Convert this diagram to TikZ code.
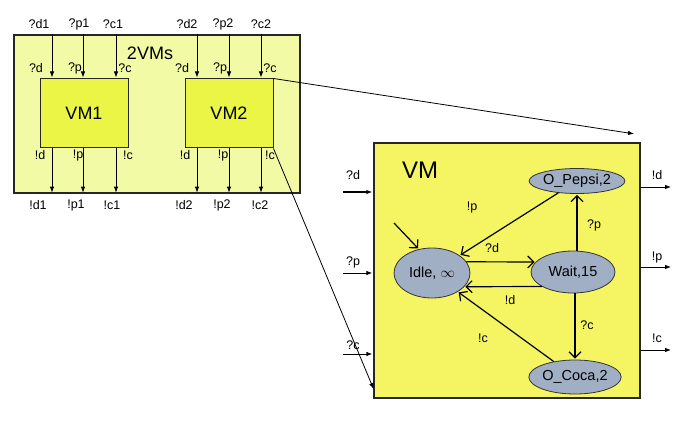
\documentclass[tikz,border=0pt]{standalone}
\usepackage{fontspec}
\setmainfont{Liberation Sans}
\usepackage{tikz}
\usetikzlibrary{arrows.meta,shapes.geometric}
\definecolor{paleyellow}{RGB}{242,250,165}
\definecolor{vmyellow}{RGB}{234,245,70}
\definecolor{bigyellow}{RGB}{245,245,100}
\definecolor{stategrey}{RGB}{160,175,196}

\begin{document}
\begin{tikzpicture}[x=1pt,y=-1pt,shorten >=1pt]
    \tikzstyle{box}=[draw=black!85,line width=1.3pt,inner sep=0pt]
    \tikzstyle{outer box}=[box,fill=paleyellow,minimum width=286pt,minimum height=158pt]
    \tikzstyle{vm box}=[box,fill=vmyellow,line width=1pt,minimum width=88pt,minimum height=69pt,font=\fontsize{18}{20}\selectfont]
    \tikzstyle{big box}=[box,fill=bigyellow,minimum width=266pt,minimum height=255pt]
    \tikzstyle{state}=[ellipse,draw=black!80,line width=0.8pt,fill=stategrey,inner sep=0pt,font=\fontsize{14.5}{16}\selectfont]
    \tikzstyle{lbl}=[inner sep=0pt,font=\fontsize{12.5}{14}\selectfont]
    \tikzstyle{port}=[draw=black,line width=0.8pt,-{Latex[length=6pt,width=4.5pt]}]
    \tikzstyle{trans}=[draw=black,line width=1.2pt,-{Straight Barb[length=6pt,width=12pt]}]
    \tikzstyle{zoomline}=[draw=black,line width=0.8pt,-{Latex[length=6pt,width=4.5pt]}]

    \useasboundingbox (0,0) rectangle (684,422);

    % the composed machine
    \node[outer box] (VMs) at (157,114) {};
    \node[font=\fontsize{18}{20}\selectfont] (VMs-title) at (150,53) {2VMs};
    \node[vm box] (VM1) at (84,113.5) {VM1};
    \node[vm box] (VM2) at (229,113.5) {VM2};

    % ports of VM1 and VM2
    \foreach \vm/\n/\x in {1/d/52,1/p/83,1/c/116,2/d/197,2/p/229,2/c/261} {
        \coordinate (x-\n\vm) at (\x,0);
        \draw[port] (x-\n\vm |- VMs.north) -- (x-\n\vm |- VM\vm.north);
        \draw[port] (x-\n\vm |- VM\vm.south) -- (x-\n\vm |- VMs.south);
    }
    \foreach \n/\x in {d1/39,p1/79,c1/113,d2/187,p2/223,c2/261}
        \node[lbl] (in-\n) at (\x,24) {?\n};
    \foreach \n/\x in {d1/38,p1/76,c1/112,d2/184,p2/222,c2/260}
        \node[lbl] (out-\n) at (\x,205) {!\n};
    \foreach \n/\x/\vm in {d/36/1,p/75/1,c/125/1,d/182/2,p/220/2,c/270/2}
        \node[lbl] (qin-\n\vm) at (\x,68) {?\n};
    \foreach \n/\x/\vm in {d/40/1,p/78/1,c/128/1,d/185/2,p/223/2,c/270/2}
        \node[lbl] (qout-\n\vm) at (\x,155) {!\n};

    % the single machine
    \node[big box] (VM) at (507,270.5) {};
    \node[font=\fontsize{24}{26}\selectfont] (VM-title) at (420,170) {VM};

    \foreach \n/\y/\ly/\w in {d/192/175/1.4,p/273/262/0.8,c/354/345/0.8} {
        \coordinate (vin-\n) at (343,\y);
        \draw[port,line width=\w pt] (vin-\n) -- (vin-\n -| VM.west);
        \node[lbl] (vinl-\n) at (353,\ly) {?\n};
    }
    \foreach \n/\y/\ly in {d/187/175,p/267/257,c/350/338} {
        \coordinate (vout-\n) at (672,\y);
        \draw[port] (vout-\n -| VM.east) -- (vout-\n);
        \node[lbl] (voutl-\n) at (657,\ly) {!\n};
    }

    % states
    \node[state,minimum width=88pt,minimum height=25pt] (Pepsi) at (577,181) {O\_Pepsi,2};
    \node[state,minimum width=76pt,minimum height=50pt] (Idle) at (432,273) {Idle, $\infty$};
    \node[state,minimum width=84pt,minimum height=42pt] (Wait) at (573,272) {Wait,15};
    \node[state,minimum width=72pt,minimum height=34pt] (Coca) at (575,377) {O\_Coca,2};

    % transitions
    \coordinate (init) at (394,223);
    \draw[trans] (init) -- (Idle.119);
    \draw[trans] (Pepsi) -- (Idle);
    \draw[trans] (Idle.18) -- (Wait.165);
    \draw[trans] (Wait.205) -- (Idle.-23);
    \draw[trans] (Wait.north -| Pepsi.south) -- (Pepsi.south);
    \draw[trans] (Wait.south -| Coca.north) -- (Coca.north);
    \draw[trans] (Coca) -- (Idle);
    \node[lbl] (l-pepsi) at (472,207) {!p};
    \node[lbl] (l-start) at (492,248) {?d};
    \node[lbl] (l-back) at (510,300) {!d};
    \node[lbl] (l-up) at (594,225) {?p};
    \node[lbl] (l-down) at (587,325) {?c};
    \node[lbl] (l-coca) at (483,338) {!c};

    % zoom lines
    \coordinate (zoom-a) at (635,134);
    \coordinate (zoom-b) at (374,390);
    \draw[zoomline] (VM2.north east) -- (zoom-a);
    \draw[zoomline] (VM2.south east) -- (zoom-b);
\end{tikzpicture}
\end{document}
